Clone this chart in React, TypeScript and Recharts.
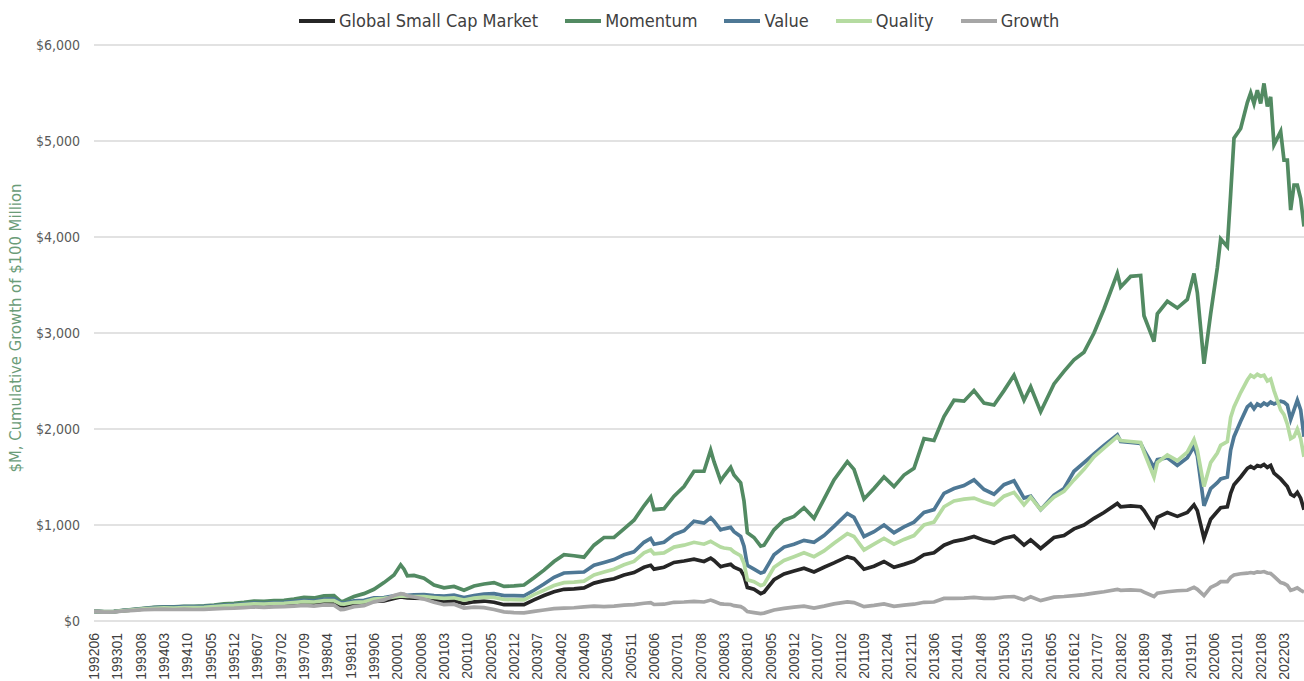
import React from 'react';
import { LineChart, Line, XAxis, YAxis, CartesianGrid, Legend } from 'recharts';

// ---- DATA ----
const dates: string[] = [
  '199206', '199209', '199212',
  '199303', '199306', '199309', '199312',
  '199403', '199406', '199409', '199412',
  '199503', '199506', '199509', '199512',
  '199603', '199606', '199609', '199612',
  '199703', '199706', '199709', '199712',
  '199803', '199806', '199808', '199809', '199812',
  '199903', '199906', '199909', '199912',
  '200002', '200003', '200004', '200006', '200009', '200012',
  '200103', '200106', '200109', '200112',
  '200203', '200206', '200209', '200212',
  '200303', '200306', '200309', '200312',
  '200403', '200406', '200409', '200412',
  '200503', '200506', '200509', '200512',
  '200603', '200605', '200606', '200609', '200612',
  '200703', '200706', '200709', '200711', '200712',
  '200802', '200803', '200805', '200806', '200808', '200809', '200810', '200812',
  '200902', '200903', '200906', '200909', '200912',
  '201003', '201006', '201009', '201012',
  '201104', '201106', '201109', '201112',
  '201203', '201206', '201209', '201212',
  '201303', '201306', '201309', '201312',
  '201403', '201406', '201409', '201412',
  '201503', '201506', '201509', '201511',
  '201602', '201606', '201609', '201612',
  '201703', '201706', '201709',
  '201801', '201802', '201805', '201808', '201809', '201812',
  '201901', '201904', '201907', '201910', '201912',
  '202001', '202003', '202005', '202007', '202008', '202010', '202011', '202012',
  '202102', '202104', '202105', '202106', '202107', '202108', '202109', '202110', '202111', '202112',
  '202202', '202203', '202204', '202205', '202206', '202207', '202208', '202209',
];

const market: number[] = [
  100, 95, 98,
  108, 115, 125, 132,
  135, 132, 137, 135,
  138, 143, 150, 153,
  160, 168, 165, 170,
  172, 180, 188, 180,
  192, 190, 160, 158, 175,
  178, 205, 210, 235,
  250, 245, 240, 238, 235, 215,
  200, 210, 180, 200,
  208, 195, 170, 172,
  170, 220, 265, 305,
  330, 335, 345, 395,
  420, 440, 480, 505,
  560, 580, 540, 560, 610,
  625, 645, 620, 655, 630,
  565, 575, 590, 560, 530, 470, 350, 330,
  285, 300, 430, 490, 520,
  550, 510, 560, 605,
  670, 650, 540, 570,
  620, 560, 590, 625,
  690, 710, 790, 830,
  850, 880, 840, 810,
  860, 885, 790, 845,
  755, 870, 890, 960,
  1000, 1070, 1130,
  1225, 1190, 1200, 1190, 1150, 985,
  1080, 1130, 1090, 1130, 1210,
  1150, 860, 1060, 1140, 1180, 1190, 1330, 1420,
  1500, 1590, 1610, 1590, 1620, 1610, 1630, 1600, 1620, 1540,
  1480, 1440, 1400, 1320, 1300, 1340, 1280, 1160,
];

const momentum: number[] = [
  100, 97, 100,
  112, 122, 133, 142,
  148, 147, 152, 152,
  157, 165, 178, 185,
  195, 208, 205, 212,
  215, 228, 245, 240,
  262, 265, 205, 208, 255,
  285, 330, 400, 480,
  585, 540, 470, 475, 445, 375,
  345, 360, 320, 365,
  385, 400, 360, 365,
  375, 450, 530, 620,
  690, 680, 665, 790,
  870, 870, 960, 1050,
  1200, 1290, 1160, 1170, 1300,
  1400, 1560, 1560, 1780, 1660,
  1460, 1510, 1600, 1520, 1440, 1250, 920, 870,
  780, 790, 950, 1050, 1090,
  1180, 1070, 1270, 1470,
  1660, 1580, 1270, 1380,
  1500, 1400, 1520, 1590,
  1900, 1880, 2130, 2300,
  2290, 2400, 2270, 2250,
  2400, 2560, 2300, 2440,
  2180, 2470, 2600, 2720,
  2800, 3000, 3250,
  3620, 3480, 3590, 3600, 3180, 2910,
  3200, 3330, 3260, 3350, 3620,
  3420, 2680, 3200, 3680, 3980, 3900, 4450, 5030,
  5130, 5400, 5500, 5390, 5530, 5390, 5600, 5360, 5460, 4960,
  5100, 4800, 4800, 4280, 4540, 4540, 4400, 4110,
];

const value: number[] = [
  100, 95, 98,
  110, 120, 130, 140,
  145, 145, 150, 150,
  152, 158, 166, 172,
  180, 188, 185, 192,
  195, 205, 215, 210,
  228, 230, 190, 188, 210,
  215, 240, 245, 262,
  272, 270, 268, 272, 275, 265,
  260, 270, 245, 265,
  280, 285, 265, 265,
  262, 320, 385, 455,
  500, 505, 510, 580,
  610, 640, 690, 720,
  820, 860, 800, 820, 900,
  940, 1040, 1020, 1075, 1040,
  950, 960, 975, 930, 880, 780, 580, 540,
  500, 510, 690, 770, 800,
  840, 820, 890, 985,
  1120, 1080, 880, 930,
  1000, 920, 980, 1030,
  1130, 1160, 1330, 1380,
  1410, 1470, 1370, 1320,
  1420, 1460, 1280, 1300,
  1160, 1310, 1380, 1560,
  1650, 1740, 1830,
  1940, 1870, 1860, 1850, 1780, 1600,
  1680, 1700, 1620, 1700, 1820,
  1720, 1200, 1380, 1440, 1480, 1500, 1780, 1920,
  2080, 2230, 2260, 2210, 2260, 2240, 2270, 2250, 2280, 2260,
  2290, 2280, 2250, 2100, 2200, 2300, 2200, 1920,
];

const quality: number[] = [
  100, 96, 98,
  108, 116, 126, 133,
  137, 135, 140, 140,
  143, 150, 157, 162,
  170, 178, 176, 182,
  185, 193, 202, 198,
  212, 212, 178, 176, 195,
  200, 228, 235, 250,
  262, 258, 255, 255, 255, 245,
  235, 242, 218, 238,
  248, 245, 225, 222,
  220, 275, 320, 370,
  400, 405, 415, 480,
  510, 540, 585, 620,
  710, 740, 700, 710, 770,
  790, 820, 800, 830, 810,
  770, 760, 750, 720, 680, 600, 430, 410,
  370, 380, 560, 630, 670,
  710, 670, 730, 810,
  910, 880, 740, 800,
  860, 800, 850, 890,
  1000, 1030, 1190, 1250,
  1270, 1280, 1240, 1210,
  1300, 1340, 1210, 1290,
  1160, 1290, 1350, 1470,
  1580, 1710, 1800,
  1920, 1880, 1870, 1860, 1760, 1500,
  1650, 1730, 1670, 1760, 1890,
  1780, 1400, 1650, 1750, 1830, 1870, 2120, 2230,
  2380, 2510, 2560, 2540, 2570, 2550, 2560, 2500, 2520, 2400,
  2200, 2150, 2050, 1900, 1920, 2000, 1900, 1710,
];

const growth: number[] = [
  100, 93, 95,
  104, 110, 118, 122,
  124, 120, 123, 120,
  122, 126, 132, 134,
  140, 146, 142, 147,
  150, 155, 162, 155,
  168, 165, 118, 120, 150,
  160, 200, 220, 265,
  285, 280, 262, 250, 230, 195,
  170, 175, 135, 145,
  140, 120, 95, 88,
  85, 100, 115, 128,
  135, 138, 148, 155,
  150, 155, 165, 170,
  185, 192, 172, 175, 195,
  198, 205, 198, 218, 205,
  178, 175, 172, 160, 150, 130, 98, 88,
  78, 82, 115, 132, 145,
  155, 135, 155, 178,
  200, 192, 150, 162,
  178, 152, 165, 175,
  195, 198, 235, 236,
  238, 245, 235, 235,
  250, 255, 220, 252,
  212, 248, 255, 265,
  275, 290, 305,
  330, 320, 325, 318, 300, 255,
  290, 305, 315, 320, 350,
  330, 265, 350, 385, 410, 410, 455, 480,
  492, 498, 505, 500, 512, 508, 515, 500, 495, 465,
  400, 390, 370, 320, 330, 345, 320, 300,
];

const xTickLabels: string[] = [
  '199206', '199301', '199308', '199403', '199410', '199505', '199512', '199607',
  '199702', '199709', '199804', '199811', '199906', '200001', '200008', '200103',
  '200110', '200205', '200212', '200307', '200402', '200409', '200504', '200511',
  '200606', '200701', '200708', '200803', '200810', '200905', '200912', '201007',
  '201102', '201109', '201204', '201211', '201306', '201401', '201408', '201503',
  '201510', '201605', '201612', '201707', '201802', '201809', '201904', '201911',
  '202006', '202101', '202108', '202203',
];

const yTicks: number[] = [0, 1000, 2000, 3000, 4000, 5000, 6000];

const seriesNames = ['Global Small Cap Market', 'Momentum', 'Value', 'Quality', 'Growth'];
const seriesKeys = ['market', 'momentum', 'value', 'quality', 'growth'];
const seriesColors = ['#262626', '#528a62', '#4e7895', '#b5dba1', '#a6a6a6'];
const yAxisTitle = '$M, Cumulative Growth of $100 Million';

// ---- helpers ----
const monthIndex = (s: string) =>
  (parseInt(s.slice(0, 4), 10) - 1992) * 12 + parseInt(s.slice(4, 6), 10) - 6;

const labelByIndex: Record<number, string> = {};
xTickLabels.forEach((l) => {
  labelByIndex[monthIndex(l)] = l;
});
const xTickIdx = xTickLabels.map(monthIndex);
const lastIdx = monthIndex(dates[dates.length - 1]);

const data = dates.map((d, i) => ({
  t: monthIndex(d),
  date: d,
  market: market[i],
  momentum: momentum[i],
  value: value[i],
  quality: quality[i],
  growth: growth[i],
}));

const SANS = '"DejaVu Sans", sans-serif';
const REGULAR = '"Liberation Sans", Arial, sans-serif';
const condensed = { fontStretch: 'condensed' } as React.CSSProperties;

const XTick = (props: any) => {
  const { x, payload } = props;
  const label = labelByIndex[payload.value] ?? '';
  const ty = 633;
  return (
    <text
      x={x}
      y={ty}
      transform={`rotate(-90, ${x}, ${ty})`}
      textAnchor="end"
      dy="0.36em"
      fontSize={14}
      fontFamily={REGULAR}
      fill="#404040"
    >
      {label}
    </text>
  );
};

const YTick = (props: any) => {
  const { y, payload } = props;
  return (
    <text
      x={80}
      y={y}
      dy="0.36em"
      textAnchor="end"
      fontSize={14}
      fontFamily={SANS}
      style={condensed}
      fill="#595959"
    >
      {'$' + Number(payload.value).toLocaleString('en-US')}
    </text>
  );
};

const YLabel = (props: any) => {
  const vb = props.viewBox || { x: 0, y: 45, width: 94, height: 576 };
  const cx = 15;
  const cy = vb.y + vb.height / 2 - 5;
  return (
    <text
      x={cx}
      y={cy}
      transform={`rotate(-90, ${cx}, ${cy})`}
      textAnchor="middle"
      dy="0.36em"
      fontSize={16.5}
      fontFamily={SANS}
      style={condensed}
      fill="#6b9c78"
    >
      {yAxisTitle}
    </text>
  );
};

const renderLegend = () => (
  <div
    style={{
      display: 'flex',
      flexDirection: 'row',
      alignItems: 'center',
      fontFamily: SANS,
      fontStretch: 'condensed',
      fontSize: 18,
      color: '#404040',
      whiteSpace: 'nowrap',
    }}
  >
    {seriesNames.map((n, i) => (
      <div key={n} style={{ display: 'flex', alignItems: 'center', marginRight: 27 }}>
        <div style={{ width: 36, height: 4, background: seriesColors[i], marginRight: 4 }} />
        <span>{n}</span>
      </div>
    ))}
  </div>
);

export default function App() {
  return (
    <div style={{ position: 'absolute', left: 0, top: 0, width: 1304, height: 681, background: '#fff' }}>
      <LineChart width={1304} height={681} data={data} margin={{ top: 45, right: 0, bottom: 0, left: 0 }}>
        <CartesianGrid vertical={false} stroke="#d9d9d9" strokeWidth={1.3} />
        <XAxis
          type="number"
          dataKey="t"
          domain={[0, lastIdx]}
          ticks={xTickIdx}
          interval={0}
          tick={<XTick />}
          tickLine={false}
          axisLine={false}
          height={60}
          allowDataOverflow
        />
        <YAxis
          type="number"
          domain={[0, 6000]}
          ticks={yTicks}
          interval={0}
          tick={<YTick />}
          tickLine={false}
          axisLine={false}
          width={94}
          label={<YLabel />}
        />
        <Legend
          verticalAlign="middle"
          align="center"
          layout="horizontal"
          content={renderLegend}
          wrapperStyle={{ top: 10, left: 299, width: 1000, height: 26 }}
        />
        {seriesKeys.map((k, i) => (
          <Line
            key={k}
            type="linear"
            dataKey={k}
            name={seriesNames[i]}
            stroke={seriesColors[i]}
            strokeWidth={3.7}
            dot={false}
            activeDot={false}
            isAnimationActive={false}
          />
        ))}
      </LineChart>
    </div>
  );
}
